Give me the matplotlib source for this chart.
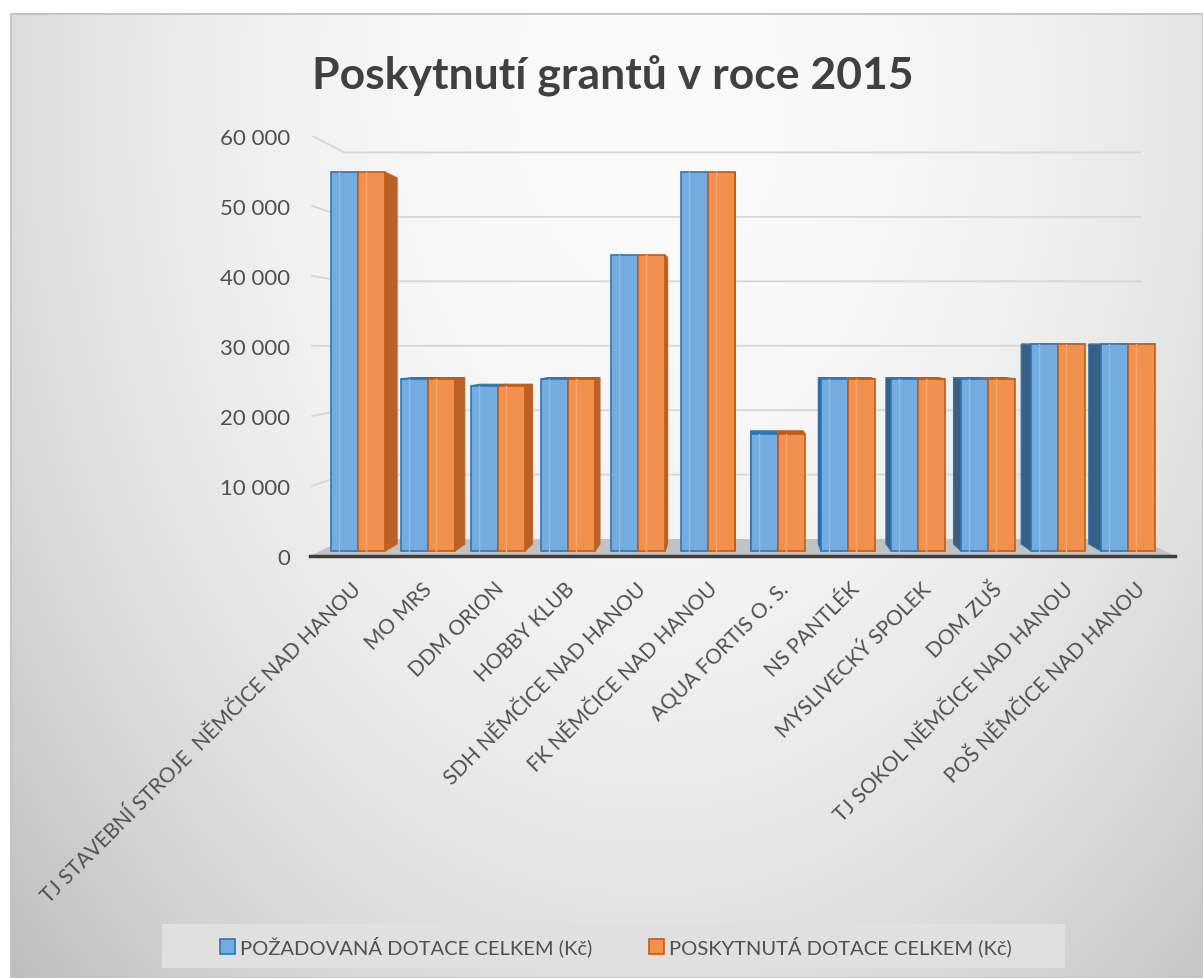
import numpy as np
import matplotlib
matplotlib.use('Agg')
import matplotlib.pyplot as plt
from matplotlib.patches import Polygon, Rectangle

categories = ['TJ STAVEBNÍ STROJE  NĚMČICE NAD HANOU', 'MO MRS', 'DDM ORION', 'HOBBY KLUB',
              'SDH NĚMČICE NAD HANOU', 'FK NĚMČICE NAD HANOU', 'AQUA FORTIS O. S.', 'NS PANTLÉK',
              'MYSLIVECKÝ SPOLEK', 'DOM ZUŠ', 'TJ SOKOL NĚMČICE NAD HANOU', 'POŠ NĚMČICE NAD HANOU']
pozadovana = [55000, 25000, 24000, 25000, 43000, 55000, 17000, 25000, 25000, 25000, 30000, 30000]
poskytnuta = [55000, 25000, 24000, 25000, 43000, 55000, 17000, 25000, 25000, 25000, 30000, 30000]
y_ticks = [0, 10000, 20000, 30000, 40000, 50000, 60000]
y_labels = ['0', '10 000', '20 000', '30 000', '40 000', '50 000', '60 000']
series = ['POŽADOVANÁ DOTACE CELKEM (Kč)', 'POSKYTNUTÁ DOTACE CELKEM (Kč)']
title = 'Poskytnutí grantů v roce 2015'

plt.rcParams['font.family'] = ['Lato', 'DejaVu Sans']

W, H = 1203, 979
fig = plt.figure(figsize=(W / 100, H / 100), dpi=100)
fig.patch.set_facecolor('white')

# background with soft radial gradient
bg = fig.add_axes([10 / W, 0, (W - 10) / W, (H - 14) / H])
xs = np.linspace(10, W, 400)
ys = np.linspace(14, H, 330)
xx, yy = np.meshgrid(xs, ys)
d = np.sqrt(((xx - 650) / 700) ** 2 + ((yy - 100) / 1000) ** 2)
g = np.clip(250 - 36 * d ** 2.2, 185, 252) / 255
bg.imshow(np.dstack([g, g, g]), extent=[0, 1, 0, 1], aspect='auto', origin='upper')
bg.add_patch(Rectangle((0, 0), 1, 1, transform=bg.transAxes, fill=False, ec='#C4C4C4', lw=2))
bg.set_xlim(0, 1)
bg.set_ylim(0, 1)
bg.axis('off')

ax = fig.add_axes([310 / W, (H - 557) / H, 865 / W, (557 - 136.8) / H])
ax.set_xlim(-0.686, 11.671)
ax.set_ylim(-720, 60000)
ax.patch.set_visible(False)
for s in ax.spines.values():
    s.set_visible(False)

VPX, VPY = 5.46, 30060


def back(x, y, k):
    return x + (VPX - x) * k, y + (VPY - y) * k


def yf(v):
    return -720 + v * 1.0163


# walls gridlines
for v in y_ticks[1:]:
    bx, by = back(-0.686, yf(v), 0.08)
    ex, ey = back(11.671, yf(v), 0.08)
    ax.plot([-0.657, bx, ex], [yf(v), by, ey], color='#D6D6D6', lw=1.3, zorder=1)

# floor
fl = [(-0.686, -720), (11.671, -720), back(11.671, -720, 0.08), back(-0.686, -720, 0.08)]
ax.add_patch(Polygon(fl, closed=True, fc='#C2C2C2', ec='none', zorder=2))
ax.plot([-0.686, 11.671], [-720, -720], color='#3F3F3F', lw=2.5, zorder=7, clip_on=False)

x = np.arange(len(categories))
w = 0.386
K = 0.034
b1 = ax.bar(x - w / 2, pozadovana, w, color='#74ACE0', edgecolor='#2E75B6', lw=1.2, zorder=5,
            label=series[0])
b2 = ax.bar(x + w / 2, poskytnuta, w, color='#F29050', edgecolor='#C55A11', lw=1.2, zorder=5,
            label=series[1])

# inner lighter band like the bevelled bars
for i in range(len(categories)):
    ax.plot([x[i] - w * 0.72] * 2, [0, pozadovana[i]], color='#8FBDE8', lw=1, zorder=6)
    ax.plot([x[i] + w * 0.28] * 2, [0, poskytnuta[i]], color='#F6A86F', lw=1, zorder=6)

for i in range(len(categories)):
    h1, h2 = pozadovana[i], poskytnuta[i]
    if x[i] + w < VPX:
        x1 = x[i] + w
        pts = [(x1, 0), (x1, h2), back(x1, h2, K), back(x1, 0, K)]
        ax.add_patch(Polygon(pts, closed=True, fc='#B8622A', ec='#B8622A', lw=0.8, zorder=4))
    else:
        x0 = x[i] - w
        pts = [(x0, 0), (x0, h1), back(x0, h1, K), back(x0, 0, K)]
        ax.add_patch(Polygon(pts, closed=True, fc='#3A5F84', ec='#2E75B6', lw=0.8, zorder=4))
    for xa, xb, h, c in [(x[i] - w, x[i], h1, '#2E75B6'), (x[i], x[i] + w, h2, '#C55A11')]:
        if h < VPY:
            pts = [(xa, h), (xb, h), back(xb, h, K), back(xa, h, K)]
            ax.add_patch(Polygon(pts, closed=True, fc=c, ec=c, lw=0.8, zorder=4))

ax.set_yticks([yf(v) for v in y_ticks], y_labels)
ax.tick_params(axis='y', length=0, pad=14, labelsize=16, labelcolor='#505050')
ax.set_xticks(x * 1.018, categories, rotation=45, ha='right', va='center', rotation_mode='anchor')
ax.tick_params(axis='x', length=0, pad=21, labelsize=15, labelcolor='#505050')

fig.text(613 / W, 1 - 75 / H, title, ha='center', va='center', fontsize=32, fontweight='bold',
         color='#404040')

fig.patches.append(Rectangle((162 / W, 1 - 969 / H), (1065 - 162) / W, 44 / H,
                             transform=fig.transFigure, fc='#E0E0E0', ec='none', zorder=0))
fig.legend(handles=[b1, b2], labels=series, loc='center', bbox_to_anchor=(616 / W, 1 - 947 / H),
           ncol=2, frameon=False, fontsize=14.5, labelcolor='#505050', handlelength=0.75,
           handleheight=0.75, handletextpad=0.25, columnspacing=2.8)

fig.savefig('out.png', dpi=100)
